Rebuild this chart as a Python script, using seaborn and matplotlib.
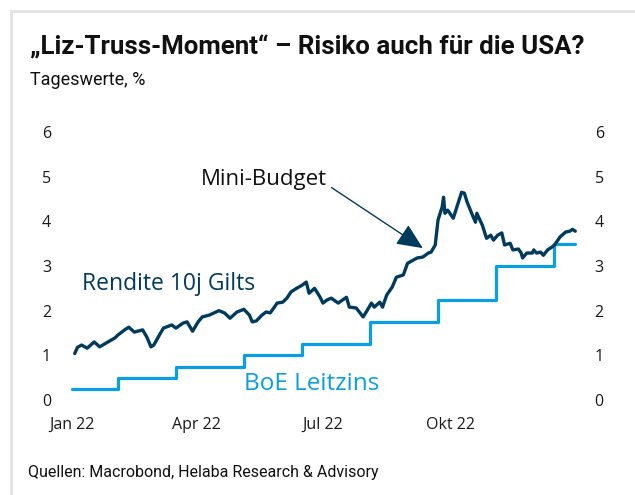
import matplotlib
matplotlib.use("Agg")
import matplotlib.pyplot as plt
import seaborn as sns
import pandas as pd

# ==== Daten ====
gilt_dates = [
    "2022-01-03", "2022-01-05", "2022-01-08", "2022-01-12", "2022-01-17", "2022-01-21",
    "2022-01-27", "2022-02-01", "2022-02-03", "2022-02-08", "2022-02-11", "2022-02-15",
    "2022-02-21", "2022-02-24", "2022-02-27", "2022-03-01", "2022-03-05", "2022-03-08",
    "2022-03-14", "2022-03-17", "2022-03-22", "2022-03-25", "2022-03-29", "2022-04-02",
    "2022-04-05", "2022-04-10", "2022-04-17", "2022-04-21", "2022-04-25", "2022-04-30",
    "2022-05-05", "2022-05-09", "2022-05-11", "2022-05-14", "2022-05-18", "2022-05-21",
    "2022-05-24", "2022-05-27", "2022-05-29", "2022-06-02", "2022-06-05", "2022-06-08",
    "2022-06-12", "2022-06-16", "2022-06-19", "2022-06-21", "2022-06-25", "2022-06-29",
    "2022-07-01", "2022-07-04", "2022-07-07", "2022-07-12", "2022-07-18", "2022-07-20",
    "2022-07-25", "2022-07-30", "2022-08-02", "2022-08-05", "2022-08-07", "2022-08-11",
    "2022-08-13", "2022-08-16", "2022-08-20", "2022-08-23", "2022-08-28", "2022-08-31",
    "2022-09-04", "2022-09-07", "2022-09-11", "2022-09-15", "2022-09-17", "2022-09-20",
    "2022-09-22", "2022-09-25", "2022-09-26", "2022-09-27", "2022-09-29", "2022-10-03",
    "2022-10-06", "2022-10-09", "2022-10-11", "2022-10-13", "2022-10-16", "2022-10-19",
    "2022-10-20", "2022-10-24", "2022-10-27", "2022-10-30", "2022-11-01", "2022-11-04",
    "2022-11-07", "2022-11-09", "2022-11-13", "2022-11-15", "2022-11-19", "2022-11-21",
    "2022-11-22", "2022-11-25", "2022-11-29", "2022-11-30", "2022-12-02", "2022-12-05",
    "2022-12-07", "2022-12-10", "2022-12-13", "2022-12-15", "2022-12-19", "2022-12-23",
    "2022-12-26", "2022-12-28", "2022-12-30",
]
gilt_values = [
    1.04, 1.18, 1.23, 1.16, 1.30, 1.19,
    1.30, 1.39, 1.45, 1.57, 1.63, 1.52,
    1.57, 1.41, 1.19, 1.23, 1.45, 1.61,
    1.68, 1.61, 1.72, 1.75, 1.54, 1.75,
    1.86, 1.90, 2.00, 1.95, 1.83, 1.97,
    2.03, 1.90, 1.75, 1.77, 1.90, 1.97,
    1.95, 2.08, 2.17, 2.19, 2.28, 2.42,
    2.50, 2.57, 2.64, 2.39, 2.50, 2.30,
    2.17, 2.24, 2.28, 2.17, 2.30, 2.08,
    2.06, 1.86, 2.01, 2.17, 2.08, 2.19,
    2.08, 2.35, 2.53, 2.75, 2.80, 3.06,
    3.13, 3.18, 3.20, 3.29, 3.31, 3.47,
    4.03, 4.32, 4.54, 4.18, 4.25, 4.07,
    4.36, 4.65, 4.63, 4.43, 4.20, 3.98,
    4.18, 3.91, 3.62, 3.69, 3.58, 3.69,
    3.74, 3.47, 3.51, 3.36, 3.38, 3.29,
    3.18, 3.29, 3.29, 3.36, 3.29, 3.31,
    3.24, 3.36, 3.42, 3.47, 3.65, 3.76,
    3.78, 3.82, 3.78,
]

boe_dates = ["2022-01-01", "2022-02-03", "2022-03-17", "2022-05-05", "2022-06-16",
             "2022-08-04", "2022-09-22", "2022-11-03", "2022-12-15", "2022-12-30"]
boe_values = [0.25, 0.50, 0.75, 1.00, 1.25, 1.75, 2.25, 3.00, 3.50, 3.50]

y_ticks = [0, 1, 2, 3, 4, 5, 6]
x_ticks = ["2022-01-01", "2022-04-01", "2022-07-01", "2022-10-01"]
x_ticklabels = ["Jan 22", "Apr 22", "Jul 22", "Okt 22"]

navy = "#003a5d"
lightblue = "#0a9fe0"

gilts = pd.DataFrame({"Datum": pd.to_datetime(gilt_dates), "Wert": gilt_values})
boe = pd.DataFrame({"Datum": pd.to_datetime(boe_dates), "Wert": boe_values})

# ==== Plot ====
sns.set_style("white")
plt.rcParams["font.family"] = ["Open Sans", "DejaVu Sans"]

W, H = 635, 495
fig = plt.figure(figsize=(W / 100, H / 100), dpi=100)
ax = fig.add_axes([65 / W, 1 - 400 / H, 520 / W, 268 / H])

sns.lineplot(data=boe, x="Datum", y="Wert", ax=ax, color=lightblue, linewidth=2.3,
             drawstyle="steps-post", clip_on=False)
sns.lineplot(data=gilts, x="Datum", y="Wert", ax=ax, color=navy, linewidth=2.4,
             clip_on=False)

ax.set_xlim(pd.Timestamp("2021-12-27"), pd.Timestamp("2023-01-06"))
ax.set_ylim(0, 6)
ax.set_xticks(pd.to_datetime(x_ticks))
ax.set_xticklabels(x_ticklabels)
ax.set_yticks(y_ticks)
ax.tick_params(axis="both", length=0, labelsize=11.5, colors="#1a1a1a")
ax.tick_params(axis="y", pad=10)
ax.tick_params(axis="x", pad=12)
ax.set_xlabel("")
ax.set_ylabel("")
for s in ax.spines.values():
    s.set_visible(False)

ax2 = ax.twinx()
ax2.set_ylim(0, 6)
ax2.set_yticks(y_ticks)
ax2.tick_params(axis="y", length=0, labelsize=11.5, colors="#1a1a1a", pad=7)
for s in ax2.spines.values():
    s.set_visible(False)

# Beschriftungen im Chart
ax.text(pd.Timestamp("2022-01-08"), 2.60, "Rendite 10j Gilts", color=navy, fontsize=16.5,
        va="center", ha="left")
ax.text(pd.Timestamp("2022-05-05"), 0.36, "BoE Leitzins", color=lightblue, fontsize=17.5,
        va="center", ha="left")
ax.annotate("Mini-Budget", xy=(pd.Timestamp("2022-09-11"), 3.40),
            xytext=(pd.Timestamp("2022-07-04"), 4.94), textcoords="data",
            fontsize=16, color="#111111", ha="right", va="center",
            arrowprops=dict(arrowstyle="-|>,head_length=1.0,head_width=0.45",
                            color=navy, lw=1.0, shrinkA=1, shrinkB=0,
                            relpos=(1.0, 0.25)))

# Titel, Untertitel, Quelle
fig.text(30 / W, 1 - 47 / H, "\u201eLiz-Truss-Moment\u201c \u2013 Risiko auch f\u00fcr die USA?",
         fontsize=18.6, fontweight="bold", va="center", ha="left", color="#111111",
         family=["Roboto", "DejaVu Sans"])
fig.text(30 / W, 1 - 80 / H, "Tageswerte, %", fontsize=13, va="center", ha="left",
         color="#111111", family=["Roboto", "DejaVu Sans"])
fig.text(28 / W, 1 - 473 / H, "Quellen: Macrobond, Helaba Research & Advisory",
         fontsize=11.5, va="center", ha="left", color="#111111",
         family=["Roboto", "DejaVu Sans"])

# heller Rahmen links/oben
fig.add_artist(plt.Line2D([11 / W, 11 / W], [0, 1 - 11 / H], transform=fig.transFigure,
                          color="#e3e3e3", lw=2))
fig.add_artist(plt.Line2D([11 / W, 1], [1 - 11 / H, 1 - 11 / H], transform=fig.transFigure,
                          color="#e3e3e3", lw=2))

fig.savefig("out.png", dpi=100)
